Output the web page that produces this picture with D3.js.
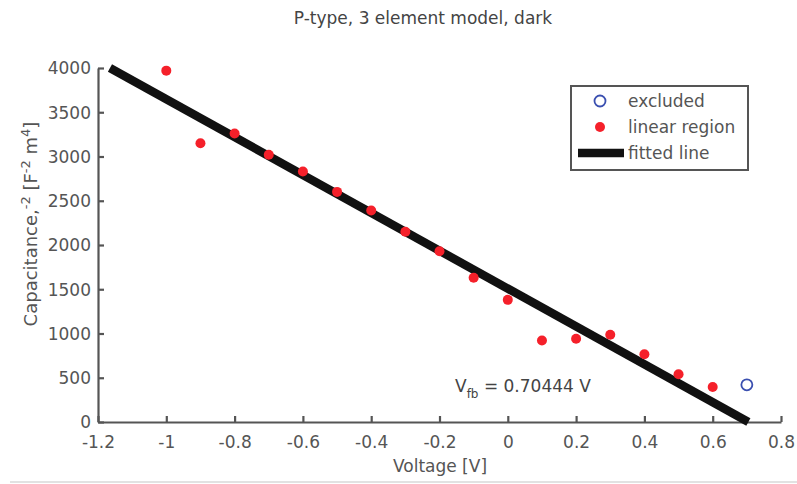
<!DOCTYPE html>
<html><head><meta charset="utf-8">
<script src="https://cdn.jsdelivr.net/npm/d3@7"></script>
<style>body{margin:0;background:#fff;} text{font-family:"DejaVu Sans",sans-serif;}</style>
</head><body>
<svg id="chart" width="797" height="484"></svg>
<script>
const voltages = [-1.0,-0.9,-0.8,-0.7,-0.6,-0.5,-0.4,-0.3,-0.2,-0.1,0.0,0.1,0.2,0.3,0.4,0.5,0.6];
const capValues = [3970,3150,3260,3020,2830,2600,2390,2150,1930,1630,1380,920,940,985,765,540,395];
const excludedV = [0.7];
const excludedC = [420];
const fitV = [-1.165, 0.70444];
const fitC = [4000, 0];
const xTicks = [-1.2,-1,-0.8,-0.6,-0.4,-0.2,0,0.2,0.4,0.6,0.8];
const yTicks = [0,500,1000,1500,2000,2500,3000,3500,4000];
const legendLabels = ["excluded","linear region","fitted line"];

const FONT = "DejaVu Sans, sans-serif";
const FS = 17;
const svg = d3.select("#chart");
const x = d3.scaleLinear().domain([-1.2,0.8]).range([98,781]);
const y = d3.scaleLinear().domain([0,4000]).range([422,68]);
const axisColor = "#555", textColor = "#555";

// faint bottom rule
svg.append("line").attr("x1",10).attr("x2",797).attr("y1",482).attr("y2",482)
  .attr("stroke","#e2e2e2").attr("stroke-width",2);

// axes
const xAxis = svg.append("g").attr("transform",`translate(0,${y(0)})`)
  .call(d3.axisBottom(x).tickValues(xTicks).tickSizeInner(-6).tickSizeOuter(0).tickPadding(14)
  .tickFormat(d=>String(+d.toFixed(1))));
const yAxis = svg.append("g").attr("transform",`translate(${x(-1.2)},0)`)
  .call(d3.axisLeft(y).tickValues(yTicks).tickSizeInner(-6).tickSizeOuter(0).tickPadding(7)
  .tickFormat(d=>String(d)));
[xAxis,yAxis].forEach(g=>{
  g.select(".domain").attr("stroke",axisColor).attr("stroke-width",2.2);
  g.selectAll(".tick line").attr("stroke",axisColor).attr("stroke-width",2.2);
  g.selectAll(".tick text").attr("fill",textColor).attr("font-size",FS)
    .attr("font-family",FONT);
});
yAxis.selectAll(".tick text").attr("dy","0.35em");

// fitted line
svg.append("line")
  .attr("x1",x(fitV[0])).attr("y1",y(fitC[0]))
  .attr("x2",x(fitV[1])).attr("y2",y(fitC[1]))
  .attr("stroke","#111").attr("stroke-width",8.5);

// linear region points
const pts = voltages.map((v,i)=>({v,c:capValues[i]}));
svg.selectAll(".pt").data(pts).enter().append("circle")
  .attr("cx",d=>x(d.v)).attr("cy",d=>y(d.c)).attr("r",5)
  .attr("fill","#f5202a");
// excluded
svg.selectAll(".ex").data(excludedV.map((v,i)=>({v,c:excludedC[i]}))).enter().append("circle")
  .attr("cx",d=>x(d.v)).attr("cy",d=>y(d.c)).attr("r",5.5)
  .attr("fill","none").attr("stroke","#3a4fb0").attr("stroke-width",1.8);

// title
svg.append("text").attr("x",423).attr("y",24).attr("text-anchor","middle")
  .attr("font-size",FS).attr("fill","#444").text("P-type, 3 element model, dark");

// x label
svg.append("text").attr("x",440).attr("y",472).attr("text-anchor","middle")
  .attr("font-size",FS).attr("fill",textColor).text("Voltage [V]");

// y label
const yl = svg.append("text").attr("transform","translate(37,224) rotate(-90)")
  .attr("text-anchor","middle").attr("font-size",18).attr("fill",textColor);
yl.append("tspan").text("Capacitance,");
yl.append("tspan").attr("dy",-7).attr("font-size",13).text("-2");
yl.append("tspan").attr("dy",7).text(" [F");
yl.append("tspan").attr("dy",-7).attr("font-size",13).text("-2");
yl.append("tspan").attr("dy",7).text(" m");
yl.append("tspan").attr("dy",-7).attr("font-size",13).text("4");
yl.append("tspan").attr("dy",7).text("]");

// Vfb annotation
const vt = svg.append("text").attr("x",455).attr("y",392).attr("font-size",FS).attr("fill","#444");
vt.append("tspan").text("V");
vt.append("tspan").attr("dy",6).attr("font-size",12).text("fb");
vt.append("tspan").attr("dy",-6).text(" = 0.70444 V");

// legend
const lg = svg.append("g");
lg.append("rect").attr("x",571).attr("y",86).attr("width",177).attr("height",84)
  .attr("fill","#fff").attr("stroke","#555").attr("stroke-width",2);
lg.append("circle").attr("cx",600).attr("cy",101).attr("r",5.5).attr("fill","none")
  .attr("stroke","#3a4fb0").attr("stroke-width",1.8);
lg.append("circle").attr("cx",600).attr("cy",127).attr("r",5).attr("fill","#f5202a");
lg.append("line").attr("x1",578).attr("x2",624).attr("y1",153).attr("y2",153)
  .attr("stroke","#111").attr("stroke-width",8.5);
legendLabels.forEach((t,i)=>{
  lg.append("text").attr("x",628).attr("y",101+i*26).attr("dy","0.35em")
    .attr("font-size",FS).attr("fill",textColor).text(t);
});
</script>
</body></html>
